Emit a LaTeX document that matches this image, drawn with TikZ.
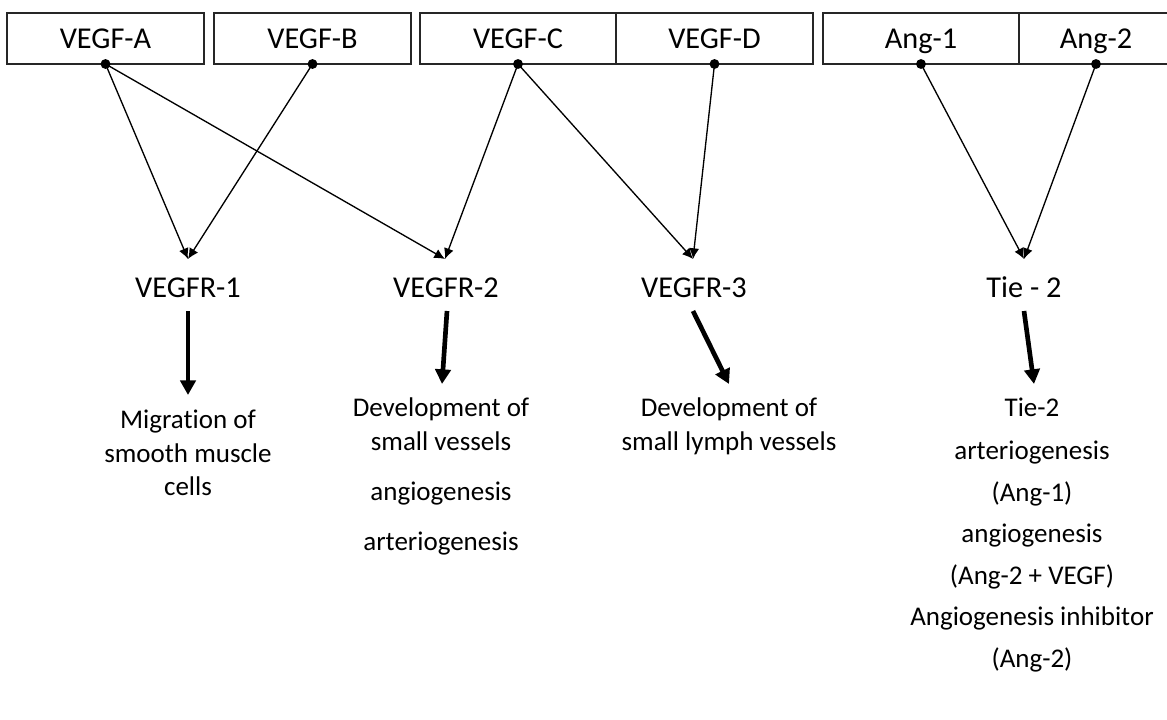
\documentclass[tikz,border=0pt]{standalone}
\usepackage{fontspec}
\setmainfont{Carlito}[Ligatures=CommonOff]
\usetikzlibrary{arrows.meta}
\begin{document}
\begin{tikzpicture}[x=0.75pt,y=-0.75pt,
  box/.style={draw=black!85,line width=0.8pt,inner sep=0pt,outer sep=0pt,
    minimum height=38.25pt,font=\fontsize{22.7}{27}\selectfont,
    text height=14.6pt,text depth=0pt},
  lbl/.style={inner sep=0pt,font=\fontsize{22.7}{27}\selectfont,
    text height=14.6pt,text depth=0pt},
  body/.style={inner sep=0pt,font=\fontsize{20.25}{24}\selectfont,
    text height=13pt,text depth=0pt},
  conn/.style={line width=1pt,-{Latex[length=8pt,width=7.5pt]}},
  big/.style={line width=3.5pt,-{Triangle[length=11pt,width=11.5pt]}},
  dotr/.style={fill=black}
]
\useasboundingbox (0,0) rectangle (1167,720);
\fill[white] (0,0) rectangle (1167,720);

\begin{scope}
\clip (0,0) rectangle (1167,720);
\node[box,minimum width=147.75pt] (A) at (105.5,38.5) {VEGF-A};
\node[box,minimum width=147.75pt] (B) at (312.5,38.5) {VEGF-B};
\node[box,minimum width=147pt] (C) at (518,38.5) {VEGF-C};
\node[box,minimum width=147.75pt] (D) at (714.5,38.5) {VEGF-D};
\node[box,minimum width=147pt] (G1) at (921,38.5) {Ang-1};
\node[box,minimum width=115.5pt] (G2) at (1096,38.5) {Ang-2};
\end{scope}

% receptor labels
\node[lbl] (R1) at (188,288) {VEGFR-1};
\node[lbl] (R2) at (446,288) {VEGFR-2};
\node[lbl] (R3) at (694,288) {VEGFR-3};
\node[lbl] (T2) at (1024,288) {Tie - 2};

% arrow tips above labels
\coordinate (t1) at (188,259);
\coordinate (t2) at (445,259);
\coordinate (t3) at (693,259);
\coordinate (t4) at (1024,259);

% thin connectors
\draw[conn] (A.south) -- (t1);
\draw[conn] (A.south) -- (t2);
\draw[conn] (B.south) -- (t1);
\draw[conn] (C.south) -- (t2);
\draw[conn] (C.south) -- (t3);
\draw[conn] (D.south) -- (t3);
\draw[conn] (G1.south) -- (t4);
\draw[conn] (G2.south) -- (t4);

% dots
\foreach \n in {A,B,C,D,G1,G2}
  \fill[dotr] (\n.south) circle[radius=3.7pt];

% outcome texts
\node[body] (m1) at (188,420) {Migration of};
\node[body] (m2) at (188,454) {smooth muscle};
\node[body] (m3) at (188,487) {cells};

\node[body] (d1) at (441,408) {Development of};
\node[body] (d2) at (441,442) {small vessels};
\node[body] (d3) at (441,492) {angiogenesis};
\node[body] (d4) at (441,542) {arteriogenesis};

\node[body] (l1) at (729,408) {Development of};
\node[body] (l2) at (729,442) {small lymph vessels};

\node[body] (e1) at (1032,408) {Tie-2};
\node[body] (e2) at (1032,451) {arteriogenesis};
\node[body] (e3) at (1032,493) {(Ang-1)};
\node[body] (e4) at (1032,534) {angiogenesis};
\node[body] (e5) at (1032,576) {(Ang-2 + VEGF)};
\node[body] (e6) at (1032,617) {Angiogenesis inhibitor};
\node[body] (e7) at (1032,659) {(Ang-2)};

% thick arrows
\coordinate (s1) at (188,311); \coordinate (f1) at (188,395);
\coordinate (s2) at (447,311); \coordinate (f2) at (442,384);
\coordinate (s3) at (693,311); \coordinate (f3) at (729,384);
\coordinate (s4) at (1024,311); \coordinate (f4) at (1034,384);
\draw[big] (s1) -- (f1);
\draw[big] (s2) -- (f2);
\draw[big] (s3) -- (f3);
\draw[big] (s4) -- (f4);
\end{tikzpicture}
\end{document}
